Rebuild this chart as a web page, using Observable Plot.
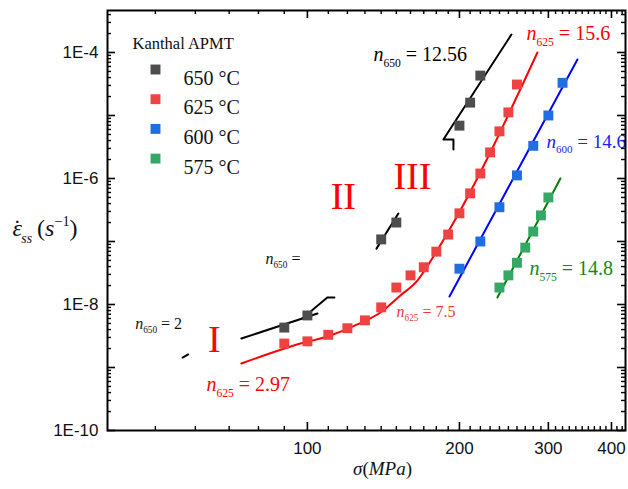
<!DOCTYPE html>
<html>
<head>
<meta charset="utf-8">
<script src="https://cdn.jsdelivr.net/npm/d3@7"></script>
<script src="https://cdn.jsdelivr.net/npm/@observablehq/plot@0.6"></script>
<style>
  html, body { margin: 0; padding: 0; background: #fff; }
</style>
</head>
<body>
<script>
// ---------- data ----------
const seriesNames = ["650 °C", "625 °C", "600 °C", "575 °C"];
const seriesColors = ["#4d4d4d", "#ef4343", "#1f6fe3", "#36a866"];
const lineColors = ["#000000", "#ff0000", "#0000ff", "#008000"];

const sigma650 = [90, 100, 140, 150, 200, 210, 220];
const rate650  = [4.3e-9, 6.7e-9, 1.08e-7, 2.0e-7, 6.9e-6, 1.6e-5, 4.3e-5];
const sigma625 = [90, 100, 110, 120, 130, 140, 150, 160, 170, 180, 190, 200, 210, 220, 230, 240, 250, 260];
const rate625  = [2.4e-9, 2.6e-9, 3.3e-9, 4.2e-9, 5.6e-9, 9.0e-9, 1.86e-8, 2.9e-8, 3.9e-8, 6.9e-8, 1.29e-7, 2.8e-7, 5.8e-7, 1.2e-6, 2.6e-6, 5.6e-6, 1.12e-5, 3.1e-5];
const sigma600 = [200, 220, 240, 260, 280, 300, 320];
const rate600  = [3.7e-8, 1.0e-7, 3.5e-7, 1.12e-6, 3.3e-6, 1.0e-5, 3.3e-5];
const sigma575 = [240, 250, 260, 270, 280, 290, 300];
const rate575  = [1.86e-8, 2.9e-8, 4.6e-8, 8.0e-8, 1.44e-7, 2.6e-7, 5.0e-7];

// fitted lines (visible pieces)
const fitSeries = ["650", "650", "650", "650", "650", "625", "600", "575"];
const fitSigma = [
  [56.6, 58.1],
  [74.0, 104.7],
  [97.7, 109.5, 113.1],
  [137, 151.4],
  [194.6, 194.6, 185.9, 253.5],
  [74.0, 96.9, 111.1, 125.6, 139.5, 152.8, 165.1, 180.1, 190.2, 285.4],
  [191.1, 342.5],
  [237.8, 316.9]
];
const fitRate = [
  [1.44e-9, 1.61e-9],
  [2.88e-9, 7.20e-9],
  [6.0e-9, 1.29e-8, 1.29e-8],
  [7.7e-8, 2.78e-7],
  [2.88e-6, 4.16e-6, 4.16e-6, 1.93e-4],
  [1.157e-9, 2.40e-9, 3.22e-9, 4.82e-9, 7.46e-9, 1.39e-8, 2.40e-8, 6.93e-8, 1.44e-7, 1.0e-4],
  [1.34e-8, 7.74e-5],
  [1.29e-8, 1.0e-6]
];

// axis ticks
const xTickValues = [100, 200, 300, 400];
const xTickLabels = ["100", "200", "300", "400"];
const xMinorTicks = [50, 60, 70, 80, 90, 110, 120, 130, 140, 150, 160, 170, 180, 190,
  210, 220, 230, 240, 250, 260, 270, 280, 290, 310, 320, 330, 340, 350, 360, 370, 380, 390, 410, 420];
const yLabelValues = [1e-10, 1e-8, 1e-6, 1e-4];
const yLabelTexts = ["1E-10", "1E-8", "1E-6", "1E-4"];
const yMajorTicks = [1e-10, 1e-9, 1e-8, 1e-7, 1e-6, 1e-5, 1e-4];
const yMinorMult = [2, 3, 4, 5, 6, 7, 8, 9];

// ---------- build tables ----------
const pts = [];
[[sigma650, rate650], [sigma625, rate625], [sigma600, rate600], [sigma575, rate575]].forEach(([s, r], k) => {
  s.forEach((v, i) => pts.push({sigma: v, rate: r[i], series: seriesNames[k]}));
});
const fitRows = [];
fitSigma.forEach((arr, k) => arr.forEach((v, i) => fitRows.push({sigma: v, rate: fitRate[k][i], seg: k, s: fitSeries[k]})));
const yMinorTicks = [];
for (let d = -10; d <= -4; d++) yMinorMult.forEach(m => { const v = m * Math.pow(10, d); if (v < 4.6e-4) yMinorTicks.push(v); });

const W = 628, H = 489, mL = 107, mR = 3, mT = 10, mB = 59;
const fw = W - mL - mR, fh = H - mT - mB;
const serif = "Liberation Serif, Times New Roman, serif";
const sans = "Liberation Sans, Arial, sans-serif";
const fitColor = {"650": "#000000", "625": "#ff0000", "600": "#0000ff", "575": "#008000"};

const legendMarks = [];
seriesNames.forEach((name, i) => {
  legendMarks.push(Plot.dot([name], {frameAnchor: "top-left", dx: 48, dy: 59 + i * 29.7, symbol: "square", r: 5.6, fill: seriesColors[i], stroke: "none"}));
  legendMarks.push(Plot.text([name], {frameAnchor: "top-left", dx: 76, dy: 60 + i * 29.7, textAnchor: "start", fontSize: 20, fontFamily: serif, fill: "#111"}));
});

function ann(text, x, y, color, size, anchor = "start") {
  return Plot.text([text], {x: () => x, y: () => y, textAnchor: anchor, fill: color, fontSize: size, fontFamily: serif});
}

const chart = Plot.plot({
  width: W, height: H,
  marginLeft: mL, marginRight: mR, marginTop: mT, marginBottom: mB,
  style: {background: "#fff", overflow: "visible"},
  x: {type: "log", domain: [40.2, 426.4], axis: null},
  y: {type: "log", domain: [1e-10, 4.64e-4], axis: null},
  marks: [
    // ticks (inward)
    Plot.tickX(xTickValues, {x: d => d, insetTop: fh - 8, stroke: "#000", strokeWidth: 1.6}),
    Plot.tickX(xTickValues, {x: d => d, insetBottom: fh - 8, stroke: "#000", strokeWidth: 1.6}),
    Plot.tickX(xMinorTicks, {x: d => d, insetTop: fh - 4, stroke: "#000", strokeWidth: 1.4}),
    Plot.tickX(xMinorTicks, {x: d => d, insetBottom: fh - 4, stroke: "#000", strokeWidth: 1.4}),
    Plot.tickY(yMajorTicks, {y: d => d, insetRight: fw - 8, stroke: "#000", strokeWidth: 1.6}),
    Plot.tickY(yMajorTicks, {y: d => d, insetLeft: fw - 8, stroke: "#000", strokeWidth: 1.6}),
    Plot.tickY(yMinorTicks, {y: d => d, insetRight: fw - 4, stroke: "#000", strokeWidth: 1.4}),
    Plot.tickY(yMinorTicks, {y: d => d, insetLeft: fw - 4, stroke: "#000", strokeWidth: 1.4}),
    // tick labels
    Plot.text(xTickValues, {x: d => d, text: (d, i) => xTickLabels[i], frameAnchor: "bottom", lineAnchor: "top", dy: 11, fontSize: 17, fontFamily: sans, fill: "#111"}),
    Plot.text(yLabelValues, {y: d => d, text: (d, i) => yLabelTexts[i], frameAnchor: "left", textAnchor: "end", dx: -9, fontSize: 17, fontFamily: sans, fill: "#111"}),
    // fitted lines
    Plot.line(fitRows.filter(d => d.s !== "625"), {x: "sigma", y: "rate", z: "seg", stroke: d => fitColor[d.s], strokeWidth: 2}),
    Plot.line(fitRows.filter(d => d.s === "625"), {x: "sigma", y: "rate", z: "seg", stroke: "#ff0000", strokeWidth: 2, curve: "monotone-x"}),
    // data points
    Plot.dot(pts, {x: "sigma", y: "rate", symbol: "square", r: 5.6, fill: d => seriesColors[seriesNames.indexOf(d.series)], stroke: "none"}),
    // annotations
    ann("*n*_{650} = 12.56", 135.1, 9.4e-5, "#000", 20),
    ann("*n*_{625} = 15.6", 271.5, 1.96e-4, "#ff0000", 20),
    ann("*n*_{600} = 14.6", 297.4, 3.86e-6, "#2020ff", 19),
    ann("*n*_{575} = 14.8", 275.2, 3.65e-8, "#138a13", 20),
    ann("*n*_{625} = 7.5", 150.1, 7.74e-9, "#f03a3a", 16),
    ann("*n*_{625} = 2.97", 63.1, 5.26e-10, "#ff0000", 20),
    ann("*n*_{650} =", 82.6, 5.37e-8, "#111", 16),
    ann("*n*_{650} = 2", 45.6, 4.99e-9, "#111", 16),
    ann("I", 65.4, 2.70e-9, "#ff0000", 38, "middle"),
    ann("II", 117.8, 5.21e-7, "#ff0000", 38, "middle"),
    ann("III", 161.4, 1.08e-6, "#ff0000", 38, "middle"),
    // legend
    Plot.text(["Kanthal APMT"], {frameAnchor: "top-left", dx: 25, dy: 27, textAnchor: "start", fontSize: 16.5, fontFamily: serif, fill: "#111"}),
    ...legendMarks,
    // axis titles
    Plot.text(["*ε*˙_{*ss*}\u2009(*s*^{−1})"], {frameAnchor: "left", dx: -95, dy: 8, textAnchor: "start", fontSize: 24, fontFamily: serif, fill: "#111"}),
    Plot.text(["*σ*(*MPa*)"], {frameAnchor: "bottom", dx: 16, dy: 44, textAnchor: "middle", fontSize: 19, fontFamily: serif, fill: "#111"}),
    Plot.frame({stroke: "#000", strokeWidth: 2})
  ]
});
document.body.appendChild(chart);

// rich text: *italic*, _{sub}, ^{sup}, ˙ = dot placed over the previous glyph
function richify(root) {
  root.querySelectorAll("text").forEach(t => {
    const s = t.textContent;
    if (!/[*_^˙]/.test(s)) return;
    const fs = parseFloat(getComputedStyle(t).fontSize) || 16;
    const re = /\*([^*]+)\*|_\{([^}]*)\}|\^\{([^}]*)\}|(˙)|([^*_^˙]+)/g;
    while (t.firstChild) t.removeChild(t.firstChild);
    let shift = 0, m;
    while ((m = re.exec(s))) {
      const ts = document.createElementNS("http://www.w3.org/2000/svg", "tspan");
      let txt, italic = false, size = null, target = 0, dx = 0;
      if (m[1] !== undefined) { txt = m[1]; italic = true; }
      else if (m[2] !== undefined) { txt = m[2]; size = 0.58; target = 0.3 * fs; }
      else if (m[3] !== undefined) { txt = m[3]; size = 0.6; target = -0.42 * fs; }
      else if (m[4] !== undefined) { txt = m[4]; dx = -0.36 * fs; }
      else txt = m[5];
      if (/^\*.*\*$/.test(txt)) { txt = txt.slice(1, -1); italic = true; }
      ts.textContent = txt;
      if (italic) ts.setAttribute("font-style", "italic");
      if (size) ts.setAttribute("font-size", (size * fs).toFixed(1));
      if (dx) ts.setAttribute("dx", dx.toFixed(2));
      const dy = target - shift;
      if (Math.abs(dy) > 0.01) ts.setAttribute("dy", dy.toFixed(2));
      shift = target;
      t.appendChild(ts);
    }
  });
}
richify(chart);
</script>
</body>
</html>
